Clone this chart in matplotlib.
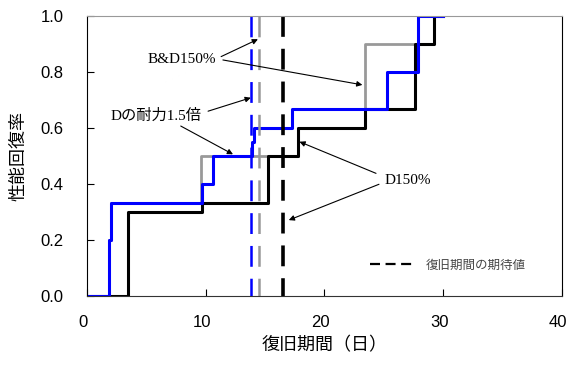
import matplotlib
matplotlib.use("Agg")
import matplotlib.pyplot as plt
import matplotlib.transforms as mtransforms
from matplotlib.lines import Line2D

# Recovery curves (days, recovery ratio)
blue_x = [0, 1.85, 2.0, 9.65, 10.65, 13.9, 14.05, 17.3, 25.3, 27.9, 30]
blue_y = [0, 0.2, 0.333, 0.4, 0.5, 0.55, 0.6, 0.667, 0.8, 1.0, 1.0]

gray_x = [0, 1.85, 2.0, 9.6, 17.75, 23.45, 27.9, 30]
gray_y = [0, 0.2, 0.333, 0.5, 0.6, 0.9, 1.0, 1.0]

black_x = [0, 3.45, 9.65, 15.25, 17.75, 23.45, 27.6, 29.25, 30]
black_y = [0, 0.3, 0.333, 0.5, 0.6, 0.667, 0.9, 1.0, 1.0]

# Expected recovery periods
expected_blue = 13.85
expected_gray = 14.45
expected_black = 16.55

x_ticks = [0, 10, 20, 30, 40]
y_ticks = [0.0, 0.2, 0.4, 0.6, 0.8, 1.0]

jp_sans = ["Noto Sans CJK JP", "DejaVu Sans"]
jp_serif = ["Liberation Serif", "Noto Sans CJK JP"]

fig = plt.figure(figsize=(5.7, 3.67), dpi=100)
ax = fig.add_axes([0.1526, 0.1935, 0.833, 0.7629])

# Step curves
ax.plot(gray_x, gray_y, drawstyle="steps-post", color="#999999", lw=2.0)
ax.plot(black_x, black_y, drawstyle="steps-post", color="black", lw=2.2)
ax.plot(blue_x, blue_y, drawstyle="steps-post", color="#0000FF", lw=2.2)

# Expected value lines (dashed)
ax.plot([expected_gray, expected_gray], [1, 0], color="#999999", lw=1.8,
        dashes=(15 / 1.8, 8.6 / 1.8))
ax.plot([expected_blue, expected_blue], [1, 0], color="#0000FF", lw=1.8,
        dashes=(15 / 1.8, 8.6 / 1.8))
ax.plot([expected_black, expected_black], [1, 0], color="black", lw=2.6,
        dashes=(15 / 2.6, 8.6 / 2.6))

ax.set_xlim(0, 40)
ax.set_ylim(0, 1.0)
ax.set_xticks(x_ticks)
ax.set_yticks(y_ticks)
ax.set_yticklabels([f"{v:.1f}" for v in y_ticks])

ax.tick_params(axis="both", direction="in", length=5, width=0.8,
               labelsize=12)
ax.tick_params(axis="y", pad=17)
ax.tick_params(axis="x", pad=14)
for lab in ax.get_xticklabels() + ax.get_yticklabels():
    lab.set_family("Liberation Sans")

# x tick labels sit a little left of their ticks in the original
shift = mtransforms.ScaledTranslation(-4 / 100, 0, fig.dpi_scale_trans)
for lab in ax.get_xticklabels():
    lab.set_transform(lab.get_transform() + shift)

ax.spines["left"].set_color("black")
ax.spines["right"].set_color("black")
ax.spines["bottom"].set_color("#333333")
ax.spines["top"].set_color("#999999")

ax.set_xlabel("復旧期間（日）", family=jp_sans, fontsize=13, labelpad=4)
ax.set_ylabel("性能回復率", family=jp_sans, fontsize=13, labelpad=9)

# Annotations
arrow = dict(arrowstyle="-|>", color="black", lw=0.8, mutation_scale=8,
             shrinkA=0, shrinkB=0)

ax.text(7.95, 0.845, "B&D150%", family=jp_serif, fontsize=11,
        ha="center", va="center")
ax.annotate("", xy=(14.4, 0.917), xytext=(11.3, 0.855), arrowprops=arrow)
ax.annotate("", xy=(23.2, 0.754), xytext=(11.45, 0.843), arrowprops=arrow)

ax.text(5.85, 0.645, "Dの耐力1.5倍", family=jp_serif, fontsize=11,
        ha="center", va="center")
ax.annotate("", xy=(13.8, 0.708), xytext=(10.2, 0.66), arrowprops=arrow)
ax.annotate("", xy=(12.3, 0.506), xytext=(7.9, 0.607), arrowprops=arrow)

ax.text(27.0, 0.414, "D150%", family=jp_serif, fontsize=11,
        ha="center", va="center")
ax.annotate("", xy=(17.9, 0.551), xytext=(24.35, 0.438), arrowprops=arrow)
ax.annotate("", xy=(17.0, 0.271), xytext=(24.6, 0.399), arrowprops=arrow)

# Legend for expected value line
handle = Line2D([], [], color="black", lw=1.6, dashes=(4.5, 2.5))
leg = ax.legend([handle], ["復旧期間の期待値"], loc="center left",
                bbox_to_anchor=(0.573, 0.11), frameon=False,
                handlelength=3.3, handletextpad=1.1,
                prop={"family": jp_sans, "size": 9})
for t in leg.get_texts():
    t.set_color("#444444")

fig.savefig("out.png", dpi=100)
